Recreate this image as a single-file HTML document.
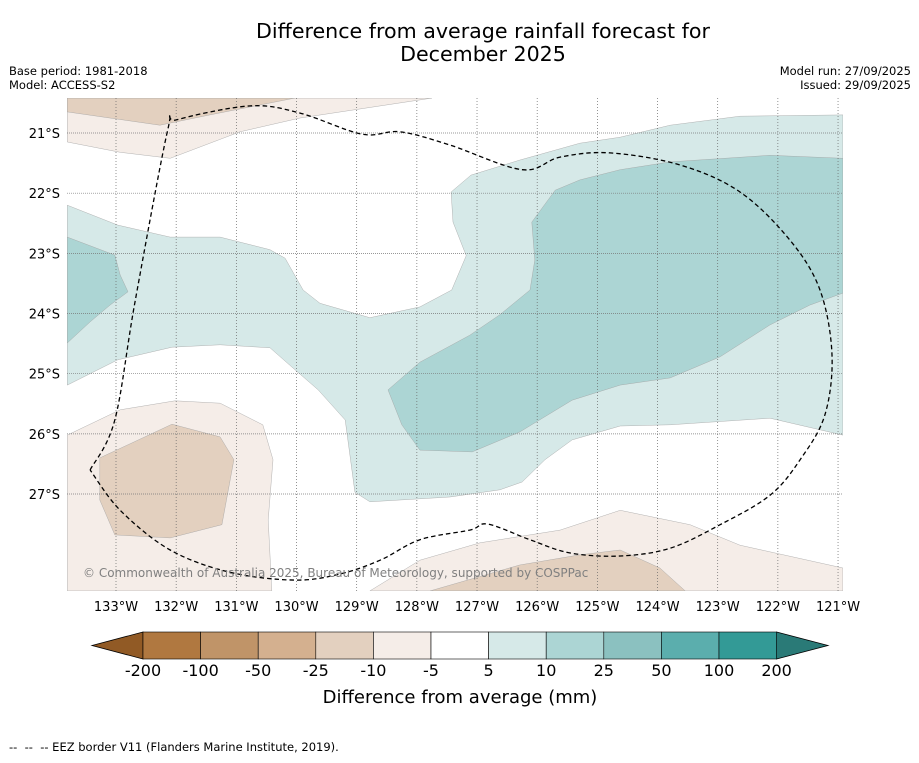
<!DOCTYPE html>
<html><head><meta charset="utf-8"><style>
body{margin:0;background:#fff;font-family:"Liberation Sans","DejaVu Sans",sans-serif;}
svg text{font-family:"DejaVu Sans","Liberation Sans",sans-serif;}
</style></head><body>
<svg id="chart" width="919" height="758" xmlns="http://www.w3.org/2000/svg">
<rect width="919" height="758" fill="#fff"/>
<text x="483" y="38" font-size="20.6" text-anchor="middle" fill="#000">Difference from average rainfall forecast for</text>
<text x="483" y="61" font-size="20.6" text-anchor="middle" fill="#000">December 2025</text>
<text x="9" y="75" font-size="11.5">Base period: 1981-2018</text>
<text x="9" y="89" font-size="11.5">Model: ACCESS-S2</text>
<text x="911" y="75" font-size="11.5" text-anchor="end">Model run: 27/09/2025</text>
<text x="911" y="89" font-size="11.5" text-anchor="end">Issued: 29/09/2025</text>
<defs><clipPath id="mapclip"><rect x="67" y="98" width="776" height="493"/></clipPath></defs>
<g id="map" clip-path="url(#mapclip)"></g>
<g id="grid"></g>
<g id="eez" clip-path="url(#mapclip)"></g>
<g id="axes"></g>
<text x="83" y="577" font-size="12" fill="#808080">© Commonwealth of Australia 2025, Bureau of Meteorology, supported by COSPPac</text>
<g id="cbar"></g>
<text x="460" y="703" font-size="18" text-anchor="middle">Difference from average (mm)</text>
<text x="9" y="751" font-size="11.5" xml:space="preserve">--  --  -- EEZ border V11 (Flanders Marine Institute, 2019).</text>
</svg>
<script>
const lonTicks=[133,132,131,130,129,128,127,126,125,124,123,122,121];
const latTicks=[21,22,23,24,25,26,27];
const levelLabels=["-200","-100","-50","-25","-10","-5","5","10","25","50","100","200"];
const levelColors=["#b07840","#c09468","#d4b08f","#e3d0bf","#f5ede8","#ffffff","#d6e9e8","#acd5d4","#8bc1c0","#5baead","#339a96"];
const extColors=["#915a25","#2a7a77"];
// polygons as [lonW, latS]
const teal5=[[133.81,22.20],[132.97,22.53],[132.10,22.73],[131.27,22.73],[130.44,22.94],[130.19,23.08],[129.89,23.61],[129.61,23.83],[128.78,24.07],[127.95,23.89],[127.42,23.61],[127.18,23.04],[127.40,22.48],[127.43,21.98],[127.10,21.70],[126.29,21.45],[125.29,21.17],[124.62,21.07],[123.79,20.87],[122.63,20.72],[120.92,20.70],[120.92,26.02],[122.13,25.74],[123.79,25.85],[124.62,25.87],[125.42,26.10],[125.87,26.43],[126.25,26.80],[126.62,26.93],[127.45,27.05],[128.78,27.13],[129.03,26.97],[129.19,25.77],[129.64,25.27],[130.11,24.86],[130.44,24.57],[131.27,24.52],[132.07,24.56],[132.97,24.77],[133.81,25.19]];
const teal10a=[[126.09,22.48],[125.70,21.95],[125.29,21.78],[124.62,21.61],[123.79,21.48],[122.13,21.37],[120.92,21.42],[120.92,23.66],[121.47,23.86],[122.13,24.19],[122.96,24.72],[123.79,25.07],[124.62,25.19],[125.42,25.44],[126.29,25.97],[127.08,26.30],[127.95,26.27],[128.25,25.85],[128.48,25.27],[127.95,24.81],[127.12,24.36],[126.62,24.02],[126.12,23.61],[126.04,23.11]];
const teal10b=[[133.81,22.73],[133.02,23.03],[132.93,23.36],[132.80,23.64],[133.10,23.86],[133.43,24.14],[133.81,24.49]];
const brown5a=[[133.81,20.42],[127.75,20.42],[129.94,20.75],[130.94,20.98],[132.10,21.42],[132.93,21.32],[133.81,21.15]];
const brown10a=[[133.81,20.42],[130.03,20.42],[131.44,20.70],[132.27,20.87],[133.81,20.65]];
const brown5b=[[133.81,26.02],[132.93,25.60],[132.02,25.45],[131.27,25.49],[130.56,25.85],[130.39,26.43],[130.47,27.43],[130.41,28.61],[133.81,28.61]];
const brown10b=[[133.27,26.40],[132.07,25.84],[131.27,26.05],[131.04,26.43],[131.24,27.51],[132.10,27.73],[133.02,27.68],[133.27,27.10]];
const brown5c=[[128.78,28.61],[127.95,28.10],[126.95,27.81],[125.62,27.60],[124.62,27.27],[123.46,27.51],[122.63,27.85],[120.92,28.23],[120.92,28.61]];
const brown10c=[[127.78,28.61],[126.29,28.18],[125.29,28.01],[124.62,27.93],[123.96,28.23],[123.54,28.61]];
const eezLine=[[133.43,26.60],[133.02,25.77],[132.68,23.78],[132.14,20.95],[131.99,20.78],[130.77,20.55],[129.94,20.67],[128.91,21.02],[128.28,20.98],[127.45,21.20],[126.25,21.61],[125.62,21.40],[124.79,21.33],[123.63,21.53],[122.63,21.98],[121.80,22.78],[121.30,23.61],[121.10,24.69],[121.22,25.69],[121.63,26.43],[122.13,27.02],[122.96,27.51],[123.79,27.90],[124.62,28.03],[125.45,27.98],[126.12,27.76],[126.82,27.50],[127.12,27.60],[127.95,27.76],[128.61,28.10],[129.28,28.33],[130.03,28.43],[131.11,28.30],[132.10,27.93],[132.93,27.27],[133.43,26.60]];

const NS="http://www.w3.org/2000/svg";
const deg=60.17;
function X(lonW){return 116+(133-lonW)*deg;}
function Y(lat){return 133+(lat-21)*deg;}
function pts(a){return a.map(p=>X(p[0]).toFixed(1)+","+Y(p[1]).toFixed(1)).join(" ");}
function smoothPath(a){
  const P=a.map(p=>[X(p[0]),Y(p[1])]);
  let d="M"+P[0][0].toFixed(1)+","+P[0][1].toFixed(1);
  for(let i=0;i<P.length-1;i++){
    const p0=P[Math.max(i-1,0)],p1=P[i],p2=P[i+1],p3=P[Math.min(i+2,P.length-1)];
    const c1=[p1[0]+(p2[0]-p0[0])/6,p1[1]+(p2[1]-p0[1])/6];
    const c2=[p2[0]-(p3[0]-p1[0])/6,p2[1]-(p3[1]-p1[1])/6];
    d+=` C${c1[0].toFixed(1)},${c1[1].toFixed(1)} ${c2[0].toFixed(1)},${c2[1].toFixed(1)} ${p2[0].toFixed(1)},${p2[1].toFixed(1)}`;
  }
  return d;
}
function mk(tag,attrs,parent){const e=document.createElementNS(NS,tag);for(const k in attrs)e.setAttribute(k,attrs[k]);parent.appendChild(e);return e;}
const map=document.getElementById('map');
const layers=[[teal5,levelColors[6],'contour-5-10-main'],[teal10a,levelColors[7],'contour-10-25-east'],[teal10b,levelColors[7],'contour-10-25-west'],[brown5a,levelColors[4],'contour-neg5-north'],[brown10a,levelColors[3],'contour-neg10-north'],[brown5b,levelColors[4],'contour-neg5-southwest'],[brown10b,levelColors[3],'contour-neg10-southwest'],[brown5c,levelColors[4],'contour-neg5-south'],[brown10c,levelColors[3],'contour-neg10-south']];
layers.forEach(l=>{
  const p=mk('polygon',{points:pts(l[0]),fill:l[1],stroke:'#a0a0a0','stroke-width':'0.4'},map);
  
  
});
const grid=document.getElementById('grid');
lonTicks.forEach(t=>{
  const l=mk('line',{x1:X(t),x2:X(t),y1:98,y2:591,stroke:'#666','stroke-width':'0.7','stroke-dasharray':'1,2'},grid);
  
  
});
latTicks.forEach(t=>{
  const l=mk('line',{x1:67,x2:843,y1:Y(t),y2:Y(t),stroke:'#777','stroke-width':'0.7','stroke-dasharray':'1,1'},grid);
  
  
});
const eez=document.getElementById('eez');
const el=mk('path',{d:smoothPath(eezLine),fill:'none',stroke:'#000','stroke-width':'1.3','stroke-dasharray':'4.5,3'},eez);


const axes=document.getElementById('axes');
lonTicks.forEach(t=>{
  const tx=mk('text',{x:X(t),y:611,'font-size':'13','text-anchor':'middle'},axes);
  tx.textContent=t+"°W";
  
  
});
latTicks.forEach(t=>{
  const tx=mk('text',{x:60,y:Y(t)+5,'font-size':'13','text-anchor':'end'},axes);
  tx.textContent=t+"°S";
  
  
});
const cb=document.getElementById('cbar');
const cx0=143,cw=57.6,cy=632,ch=27;
const t1=mk('polygon',{points:`92,${cy+ch/2} ${cx0},${cy} ${cx0},${cy+ch}`,fill:extColors[0],stroke:'#000','stroke-width':'0.8'},cb);


const xe=cx0+cw*levelColors.length;
const t2=mk('polygon',{points:`${xe},${cy} 828,${cy+ch/2} ${xe},${cy+ch}`,fill:extColors[1],stroke:'#000','stroke-width':'0.8'},cb);


levelColors.forEach((c,i)=>{
  const r=mk('rect',{x:cx0+i*cw,y:cy,width:cw,height:ch,fill:c,stroke:'#000','stroke-width':'0.6'},cb);
  
  
});
levelLabels.forEach((s,i)=>{
  const tx=mk('text',{x:cx0+i*cw,y:676,'font-size':'16','text-anchor':'middle'},cb);
  tx.textContent=s;
  
  
});
</script>
</body></html>
